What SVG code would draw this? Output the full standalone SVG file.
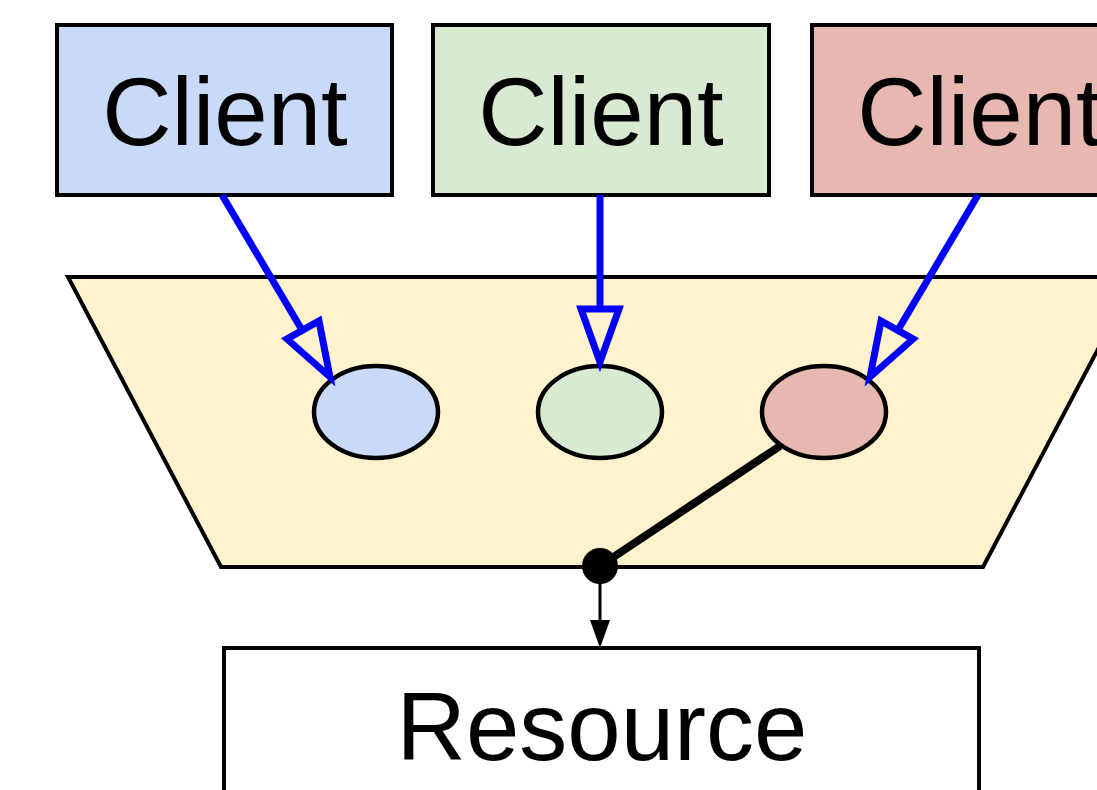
<svg xmlns="http://www.w3.org/2000/svg" width="1097" height="790" viewBox="0 0 1097 790">
  <style>
    .box { stroke: #000; stroke-width: 4; }
    .label { font-family: "Liberation Sans", Arial, sans-serif; font-size: 96px; fill: #000; text-anchor: middle; }
    .slot { stroke: #000; stroke-width: 4.5; }
    .req { stroke: #0000ff; stroke-width: 7; fill: none; }
    .reqhead { stroke: #0000ff; stroke-width: 7; fill: none; stroke-linejoin: miter; }
  </style>
  <rect width="1097" height="790" fill="#fff"/>

  <!-- pool container -->
  <g id="pool">
    <polygon class="box" points="68,277 1136,277 983,567 221,567" fill="#fff2cc"/>
  </g>

  <g id="client-1">
    <rect class="box" x="57" y="25" width="335" height="170" fill="#c9daf8"/>
    <text class="label" x="225" y="145">Client</text>
  </g>
  <g id="client-2">
    <rect class="box" x="433" y="25" width="336" height="170" fill="#d9ead3"/>
    <text class="label" x="601" y="145">Client</text>
  </g>
  <g id="client-3">
    <rect class="box" x="812" y="25" width="335" height="170" fill="#e6b8af"/>
    <text class="label" x="980" y="145">Client</text>
  </g>

  <g id="slot-1">
    <ellipse class="slot" cx="376" cy="412" rx="62" ry="46" fill="#c9daf8"/>
  </g>
  <g id="slot-2">
    <ellipse class="slot" cx="600" cy="412" rx="62" ry="46" fill="#d9ead3"/>
  </g>
  <g id="slot-3">
    <ellipse class="slot" cx="824" cy="412" rx="62" ry="46" fill="#e6b8af"/>
  </g>

  <g id="resource">
    <rect class="box" x="224" y="648" width="755" height="160" fill="#fff"/>
    <text class="label" x="602" y="760">Resource</text>
  </g>

  <g id="connectors">
    <!-- client requests into slots -->
    <line class="req" x1="222" y1="195" x2="302" y2="330"/>
    <polygon class="reqhead" points="330,377 287,339 319,321"/>
    <line class="req" x1="600" y1="195" x2="600" y2="309"/>
    <polygon class="reqhead" points="600,362 581,309 619,309"/>
    <line class="req" x1="978" y1="195" x2="898" y2="330"/>
    <polygon class="reqhead" points="870,377 913,339 881,321"/>

    <!-- active slot bound to resource -->
    <line x1="780" y1="446" x2="600" y2="566" stroke="#000" stroke-width="8"/>
    <circle cx="600" cy="566" r="18" fill="#000"/>
    <line x1="600" y1="566" x2="600" y2="622" stroke="#000" stroke-width="3"/>
    <polygon points="590,620 610,620 600,648" fill="#000"/>
  </g>
</svg>
